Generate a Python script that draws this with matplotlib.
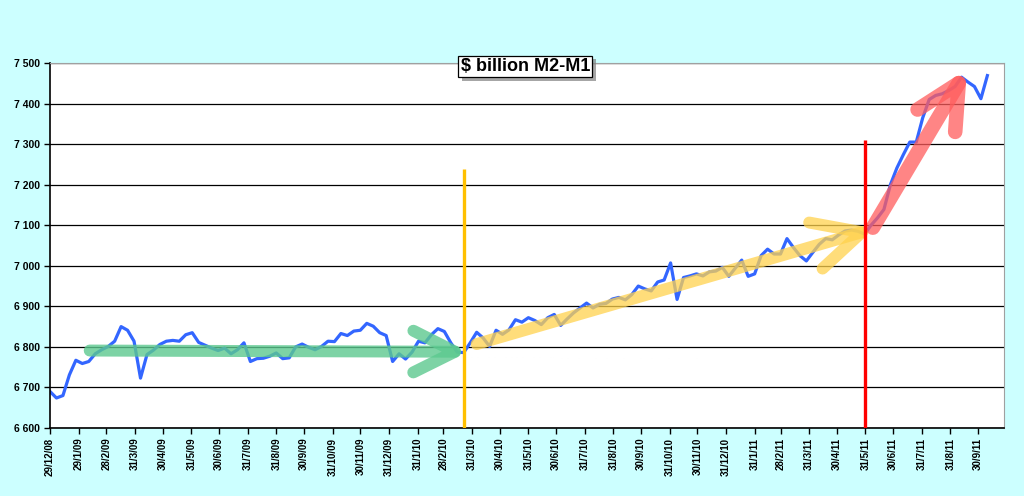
import pandas as pd
import matplotlib.pyplot as plt
import matplotlib.patheffects as pe

plt.rcParams['font.family'] = ['Liberation Sans', 'DejaVu Sans']

# weekly M2-M1, $ billion
start_date = '2008-12-29'
m2_m1 = [6690, 6674, 6680, 6731, 6767, 6759, 6764, 6783, 6793, 6801,
         6814, 6850, 6841, 6814, 6723, 6781, 6792, 6806, 6814, 6816,
         6814, 6830, 6835, 6811, 6804, 6797, 6791, 6797, 6783, 6793,
         6810, 6764, 6771, 6772, 6777, 6785, 6771, 6773, 6800, 6807,
         6799, 6793, 6801, 6814, 6813, 6833, 6828, 6839, 6841, 6858,
         6851, 6835, 6828, 6764, 6783, 6770, 6787, 6814, 6810, 6830,
         6845, 6838, 6810, 6787, 6786, 6810, 6836, 6822, 6801, 6841,
         6831, 6842, 6867, 6861, 6872, 6865, 6855, 6872, 6880, 6853,
         6869, 6884, 6896, 6908, 6896, 6905, 6907, 6918, 6922, 6916,
         6929, 6950, 6943, 6938, 6960, 6965, 7007, 6917, 6971, 6975,
         6980, 6975, 6985, 6987, 6996, 6974, 6994, 7014, 6974, 6980,
         7025, 7041, 7029, 7029, 7067, 7045, 7025, 7012, 7033, 7053,
         7067, 7064, 7076, 7086, 7088, 7085, 7078, 7100, 7118, 7139,
         7200, 7241, 7274, 7305, 7305, 7365, 7410, 7420, 7424, 7432,
         7442, 7465, 7453, 7442, 7412, 7469]

tick_labels = ['29/12/08', '29/1/09', '28/2/09', '31/3/09', '30/4/09', '31/5/09',
               '30/6/09', '31/7/09', '31/8/09', '30/9/09', '31/10/09', '30/11/09',
               '31/12/09', '31/1/10', '28/2/10', '31/3/10', '30/4/10', '31/5/10',
               '30/6/10', '31/7/10', '31/8/10', '30/9/10', '31/10/10', '30/11/10',
               '31/12/10', '31/1/11', '28/2/11', '31/3/11', '30/4/11', '31/5/11',
               '30/6/11', '31/7/11', '31/8/11', '30/9/11']

# trend arrows: (start date, start value, end date, end value)
green_arrow = ['2009-02-10', 6791, '2010-03-27', 6788]
yellow_arrow = ['2010-04-05', 6807, '2011-06-10', 7092]
red_arrow = ['2011-06-08', 7094, '2011-09-18', 7485]

# marker lines: (date, top value)
orange_line = ['2010-03-22', 7238]
red_line = ['2011-05-31', 7310]

dates = pd.date_range(start_date, periods=len(m2_m1), freq='7D')
tick_dates = pd.to_datetime(tick_labels, format='%d/%m/%y')

bg = '#CCFFFF'
fig = plt.figure(figsize=(10.24, 4.96), dpi=100, facecolor=bg)
ax = fig.add_axes([50/1024, 68/496, 954/1024, 365/496])
ax.set_facecolor('white')

ax.plot(dates, m2_m1, color='#3366FF', linewidth=2.3, zorder=2)


def trend_arrow(a, color, lw, head, alpha):
    ax.annotate('', xy=(pd.to_datetime(a[2]), a[3]), xytext=(pd.to_datetime(a[0]), a[1]),
                arrowprops=dict(arrowstyle=f'->,head_length={head},head_width={head*0.5}',
                                color=color, lw=lw, alpha=alpha, shrinkA=0, shrinkB=0,
                                capstyle='round', joinstyle='round', mutation_scale=30),
                zorder=3)


trend_arrow(green_arrow, '#5CC98F', 8.6, 1.0, 0.8)
trend_arrow(yellow_arrow, '#FFD24D', 8.6, 1.15, 0.75)
trend_arrow(red_arrow, '#FF5C5C', 10.5, 1.05, 0.75)

ax.vlines(pd.to_datetime(orange_line[0]), 6600, orange_line[1], color='#FFC000', lw=2.4, zorder=4)
ax.vlines(pd.to_datetime(red_line[0]), 6600, red_line[1], color='#FF0000', lw=2.4, zorder=4)

ax.set_ylim(6600, 7500)
ax.set_xlim(pd.to_datetime(start_date), pd.to_datetime('2011-10-28'))
yt = list(range(6600, 7501, 100))
ax.set_yticks(yt)
ax.set_yticklabels([f'{v:,}'.replace(',', ' ') for v in yt], fontsize=7.5, fontweight='bold')
ax.set_xticks(tick_dates)
ax.set_xticklabels(tick_labels, rotation=90, fontsize=7, fontweight='bold', va='top')
ax.tick_params(axis='both', direction='out', length=4, width=1, color='black', pad=3)
ax.grid(axis='y', color='black', linewidth=0.9, zorder=1)
ax.set_axisbelow(True)

for s in ['top', 'right']:
    ax.spines[s].set_color('#A0A0A0')
for s in ['left', 'bottom']:
    ax.spines[s].set_color('black')
    ax.spines[s].set_linewidth(1.2)

t = fig.text(0.513, 0.866, '$ billion M2-M1', ha='center', va='center', fontsize=13,
             fontweight='bold', zorder=10,
             bbox=dict(boxstyle='square,pad=0.12', facecolor='white', edgecolor='black', lw=0.9))
t.get_bbox_patch().set_path_effects([pe.withSimplePatchShadow(offset=(2.5, -2.5), shadow_rgbFace='gray', alpha=0.7)])

plt.savefig('out.png', dpi=100, facecolor=bg)
